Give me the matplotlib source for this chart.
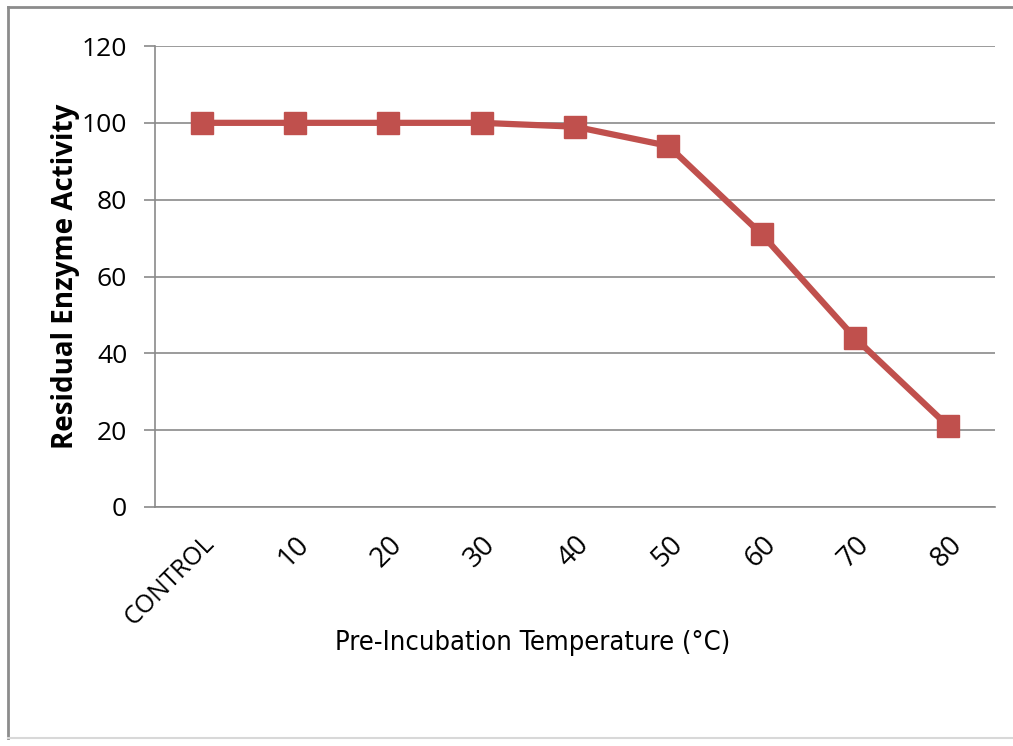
import matplotlib
matplotlib.use("Agg")
import matplotlib.pyplot as plt
from matplotlib.lines import Line2D

# data
categories = ["CONTROL", "10", "20", "30", "40", "50", "60", "70", "80"]
activity = [100, 100, 100, 100, 99, 94, 71, 44, 21]
y_ticks = [0, 20, 40, 60, 80, 100, 120]

W, H = 1013, 746
fig = plt.figure(figsize=(W / 100, H / 100), dpi=100)

# outer chart frame (grey, cut off on the right like the original)
frame_kw = dict(transform=fig.transFigure, color="#8c8c8c", linewidth=2)
fig.lines.append(Line2D([8 / W, 8 / W], [1 - 738 / H, 1 - 7 / H], **frame_kw))
fig.lines.append(Line2D([8 / W, 1.0], [1 - 7 / H, 1 - 7 / H], **frame_kw))
fig.lines.append(Line2D([8 / W, 1.0], [1 - 738 / H, 1 - 738 / H],
                        transform=fig.transFigure, color="#d8d8d8", linewidth=1.5))

ax = fig.add_axes([155 / W, 1 - 507 / H, (995 - 155) / W, (507 - 46) / H])

x = list(range(len(categories)))
ax.plot(x, activity, color="#C0504D", linewidth=4.5, marker="s",
        markersize=16.5, markerfacecolor="#C0504D", markeredgecolor="#C0504D")

ax.set_xlim(-0.5, len(categories) - 0.5)
ax.set_ylim(0, 120)
ax.set_yticks(y_ticks)
ax.yaxis.grid(True, color="#8a8a8a", linewidth=1.2)
ax.set_axisbelow(True)

for s in ["top", "right"]:
    ax.spines[s].set_visible(False)
ax.spines["left"].set_color("#8a8a8a")
ax.spines["bottom"].set_color("#8a8a8a")
ax.spines["left"].set_linewidth(1.2)
ax.spines["bottom"].set_linewidth(1.2)

ax.tick_params(axis="y", length=8, color="#8a8a8a", width=1.2,
               labelsize=19, pad=12)
ax.tick_params(axis="x", length=0, labelsize=18, pad=17)
ax.set_xticks(x)
ax.set_xticklabels(categories, rotation=45, ha="right", rotation_mode="anchor",
                   family="Open Sans")
for lab in ax.get_xticklabels()[1:]:
    lab.set_fontsize(20)
for lab in ax.get_yticklabels():
    lab.set_family("Open Sans")

fig.text(533 / W, 1 - 643 / H, "Pre-Incubation Temperature (°C)", fontsize=19.5,
         family="DejaVu Sans", fontstretch="condensed", ha="center", va="center")
ax.set_ylabel("Residual Enzyme Activity", fontsize=20, fontweight="bold",
              family="Open Sans", fontstretch="condensed", labelpad=1)

fig.savefig("out.png", dpi=100, facecolor="white")
